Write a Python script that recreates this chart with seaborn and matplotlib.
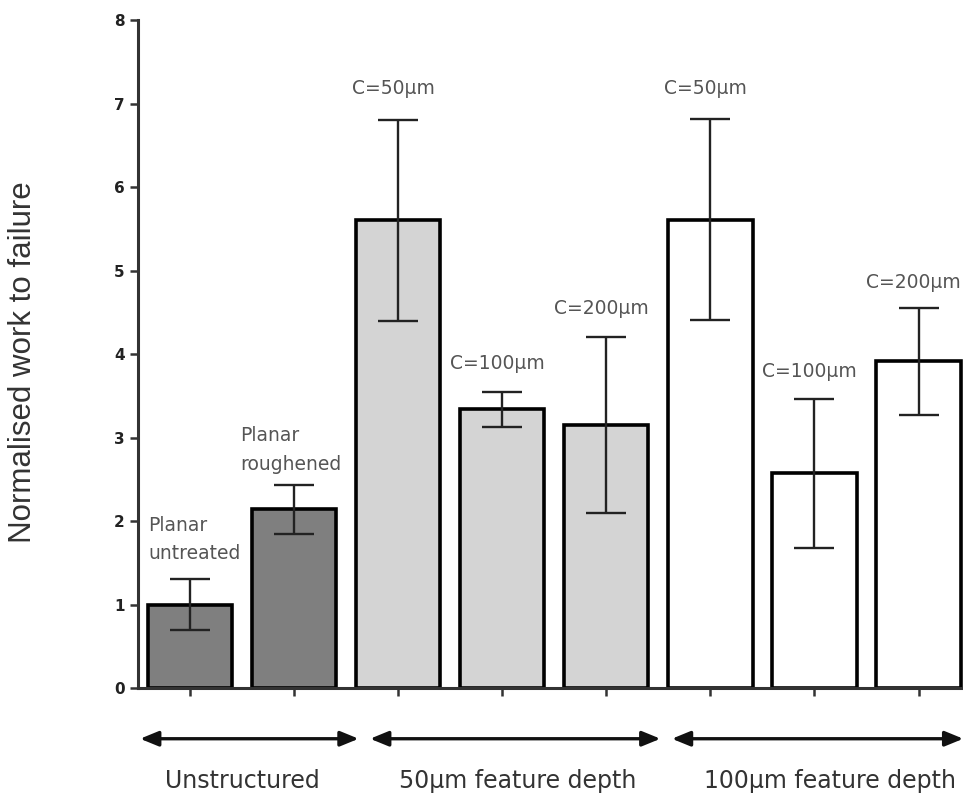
import matplotlib
matplotlib.use("Agg")
import matplotlib.pyplot as plt
import seaborn as sns
import pandas as pd

# data
bars = ["Planar untreated", "Planar roughened",
        "50 C=50", "50 C=100", "50 C=200",
        "100 C=50", "100 C=100", "100 C=200"]
means = [1.0, 2.14, 5.6, 3.34, 3.15, 5.61, 2.57, 3.92]
err_hi = [1.31, 2.43, 6.8, 3.55, 4.2, 6.81, 3.46, 4.55]
err_lo = [0.69, 1.85, 4.4, 3.13, 2.1, 4.41, 1.68, 3.27]
fills = ["#7f7f7f", "#7f7f7f", "#d4d4d4", "#d4d4d4", "#d4d4d4",
         "#ffffff", "#ffffff", "#ffffff"]
bar_labels = ["Planar\nuntreated", "Planar\nroughened", "C=50μm", "C=100μm",
              "C=200μm", "C=50μm", "C=100μm", "C=200μm"]
groups = ["Unstructured", "50μm feature depth", "100μm feature depth"]
group_spans = [(-0.48, 1.62), (1.73, 4.52), (4.63, 7.43)]
group_text_x = [0.5, 3.15, 6.15]

df = pd.DataFrame({"bar": bars, "value": means})

sns.set_style("white")
plt.rcParams['font.family'] = ['DejaVu Sans']

fig = plt.figure(figsize=(9.63, 7.96), dpi=100)
ax = fig.add_axes([0.1433, 0.1357, 0.857, 0.839])

sns.barplot(data=df, x="bar", y="value", hue="bar", palette=fills,
            legend=False, edgecolor="black", linewidth=2.6, width=0.81,
            saturation=1, ax=ax)

# error bars
lo = [m - l for m, l in zip(means, err_lo)]
hi = [h - m for m, h in zip(means, err_hi)]
ax.errorbar(range(len(bars)), means, yerr=[lo, hi], fmt="none",
            ecolor="#222222", elinewidth=1.7, capsize=14.5, capthick=1.7)

ax.set_xlim(-0.5, 7.43)
ax.set_ylim(0, 8)
ax.set_yticks(range(0, 9))
ax.set_yticklabels([str(i) for i in range(0, 9)], fontsize=11,
                   fontweight="bold", color="#222222")
ax.set_xticks(range(len(bars)))
ax.set_xticklabels([""] * len(bars))
ax.tick_params(axis="both", direction="out", length=6, width=1.8,
               color="#333333", left=True, bottom=True)
ax.set_xlabel("")
ax.set_ylabel("Normalised work to failure", fontsize=22.5, color="#333333",
              family="Liberation Sans")
ax.yaxis.set_label_coords(-0.121, 0.488)
for s in ["top", "right"]:
    ax.spines[s].set_visible(False)
for s in ["left", "bottom"]:
    ax.spines[s].set_linewidth(2.2)
    ax.spines[s].set_color("#333333")

# labels above bars
lab_col = "#555555"
lab_fs = 13.5
planar_pos = [(-0.404, 1.88, 1.545), (0.48, 2.96, 2.61)]
for i, (lx, y1, y2) in enumerate(planar_pos):
    first, second = bar_labels[i].split("\n")
    ax.text(lx, y1, first, ha="left", va="baseline", fontsize=lab_fs,
            color=lab_col)
    ax.text(lx, y2, second, ha="left", va="baseline", fontsize=lab_fs,
            color=lab_col)
label_y = [None, None, 7.11, 3.82, 4.48, 7.11, 3.72, 4.79]
for i in range(2, len(bars)):
    ax.text(i - 0.05, label_y[i], bar_labels[i], ha="center", va="baseline",
            fontsize=lab_fs, color=lab_col)

# group arrows and names under the axis
for name, (x0, x1), tx in zip(groups, group_spans, group_text_x):
    ax.annotate("", xy=(x0, -0.076), xytext=(x1, -0.076),
                xycoords=("data", "axes fraction"),
                textcoords=("data", "axes fraction"),
                arrowprops=dict(arrowstyle="<|-|>,head_length=1.1,head_width=0.45",
                                color="#111111", lw=2.4, shrinkA=0, shrinkB=0),
                annotation_clip=False)
    ax.text(tx, -0.139, name, transform=ax.get_xaxis_transform(),
            ha="center", va="center", fontsize=17, color="#333333",
            clip_on=False)

fig.savefig("out.png", dpi=100)
